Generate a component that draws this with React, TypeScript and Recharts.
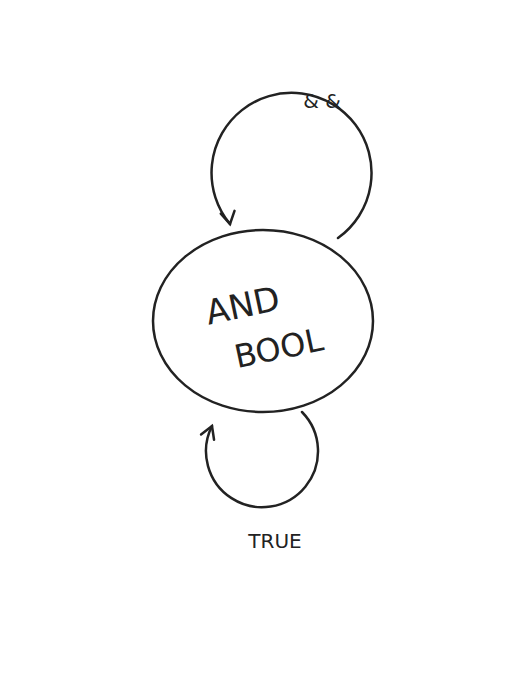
import { ScatterChart, Scatter, XAxis, YAxis } from 'recharts';

// state node: center and radii in page pixels
const nodes = [{ x: 263, y: 321, rx: 110, ry: 91, line1: 'AND', line2: 'BOOL' }];

// self loops: circle center, radius, start/end points, sweep, label
const loops = [
  { x: 294, y: 170, r: 80, sx: 338, sy: 238, ex: 230, ey: 224, sweep: 0, label: '& &', lx: 322, ly: 108, ax: 0.2, ay: 1 },
  { x: 268, y: 455, r: 56, sx: 302, sy: 412, ex: 212, ey: 426, sweep: 1, label: 'TRUE', lx: 275, ly: 548, ax: 0.4, ay: -1 },
];

const INK = '#222';
const FONT = '"DejaVu Sans", sans-serif';

function NodeShape(props: any) {
  const { cx, cy, payload } = props;
  return (
    <g>
      <ellipse cx={cx} cy={cy} rx={payload.rx} ry={payload.ry} fill="none" stroke={INK} strokeWidth={2.5} />
      <text x={cx - 18} y={cy - 4} textAnchor="middle" fontFamily={FONT} fontSize={34} fill={INK} transform={`rotate(-12 ${cx - 18} ${cy - 4})`}>
        {payload.line1}
      </text>
      <text x={cx + 18} y={cy + 38} textAnchor="middle" fontFamily={FONT} fontSize={32} fill={INK} transform={`rotate(-12 ${cx + 18} ${cy + 38})`}>
        {payload.line2}
      </text>
    </g>
  );
}

function LoopShape(props: any) {
  const { cx, cy, payload: p } = props;
  const ox = cx - p.x;
  const oy = cy - p.y;
  const sx = p.sx + ox, sy = p.sy + oy, ex = p.ex + ox, ey = p.ey + oy;
  const d = `M${sx},${sy} A${p.r},${p.r} 0 1 ${p.sweep} ${ex},${ey}`;
  const len = Math.hypot(p.ax, p.ay);
  const ux = p.ax / len, uy = p.ay / len;
  const bx = ex - ux * 12, by = ey - uy * 12;
  const arrow = `M${bx - uy * 7},${by + ux * 7} L${ex},${ey} L${bx + uy * 7},${by - ux * 7}`;
  return (
    <g>
      <path d={d} fill="none" stroke={INK} strokeWidth={2.5} strokeLinecap="round" />
      <path d={arrow} fill="none" stroke={INK} strokeWidth={2.5} strokeLinecap="round" />
      <text x={p.lx + ox} y={p.ly + oy} textAnchor="middle" fontFamily={FONT} fontSize={20} fill={INK}>
        {p.label}
      </text>
    </g>
  );
}

export default function App() {
  return (
    <div style={{ position: 'absolute', left: 0, top: 0, width: 525, height: 700, background: '#fff' }}>
      <ScatterChart width={525} height={700} margin={{ top: 0, right: 0, bottom: 0, left: 0 }}>
        <XAxis type="number" dataKey="x" domain={[0, 525]} hide />
        <YAxis type="number" dataKey="y" domain={[0, 700]} reversed hide />
        <Scatter data={loops} shape={LoopShape} isAnimationActive={false} />
        <Scatter data={nodes} shape={NodeShape} isAnimationActive={false} />
      </ScatterChart>
    </div>
  );
}
